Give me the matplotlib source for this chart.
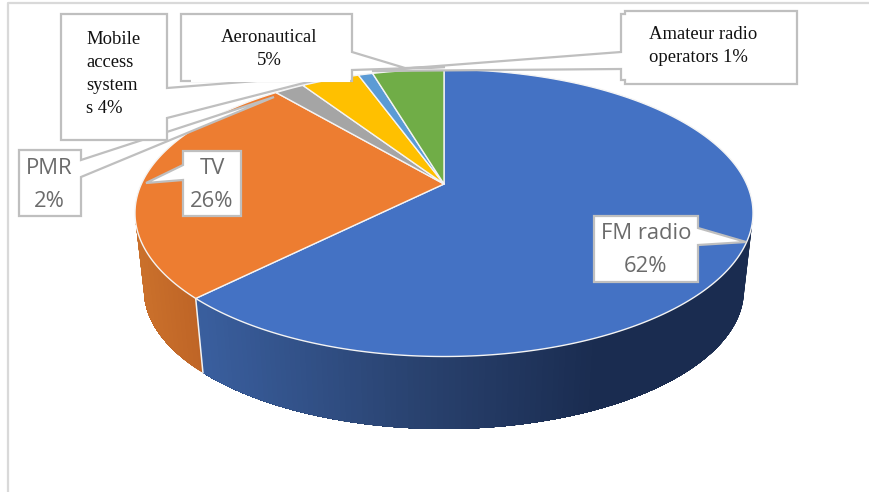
import numpy as np
import matplotlib
matplotlib.use("Agg")
import matplotlib.pyplot as plt
from matplotlib.patches import Polygon
from matplotlib.colors import to_rgb

categories = ["FM radio", "TV", "PMR", "Mobile access system", "Amateur radio operators", "Aeronautical"]
values = [62, 26, 2, 4, 1, 5]
colors = ["#4472C4", "#ED7D31", "#A5A5A5", "#FFC000", "#5B9BD5", "#70AD47"]
side_colors = {0: [(196, "#3A5F9F"), (420, "#29426F"), (600, "#1A2C50"), (760, "#1A2C50")],
               1: [(130, "#CC722C"), (200, "#BE6426")]}
label_text = ["FM radio\n62%", "TV\n26%", "PMR\n2%", "Mobile\naccess\nsystem\ns 4%",
              "Amateur radio\noperators 1%", "Aeronautical\n5%"]

# geometry in pixels
CX, CY, RX, RY, APEX_Y, WARP = 444, 213, 309, 143.5, 184, 15
BCY, BRX, BRY = 290, 300, 139

fig = plt.figure(figsize=(8.7, 4.92), dpi=100)
ax = fig.add_axes([0, 0, 1, 1])
ax.set_xlim(0, 870); ax.set_ylim(492, 0); ax.axis("off")

def warp(t):
    return t - np.radians(WARP) * np.sin(t)

def rim(t):
    return np.column_stack([CX + RX * np.sin(t), CY - RY * np.cos(t)])

def base(t):
    return np.column_stack([CX + BRX * np.sin(t), BCY - BRY * np.cos(t)])

def blend(stops, x):
    xs = [s[0] for s in stops]
    rgb = np.array([to_rgb(s[1]) for s in stops])
    return [np.interp(x, xs, rgb[:, i]) for i in range(3)]

# frame
ax.plot([8, 8, 870], [492, 3, 3], color="#D9D9D9", lw=1.6, zorder=0)

frac = np.cumsum([0] + values) / sum(values)
angles = warp(frac * 2 * np.pi)

# side wall: each strip reaches to the slice's far end, so later strips overpaint without seams
for i, col in enumerate(colors):
    lo, hi = max(angles[i], np.pi / 2), min(angles[i + 1], 3 * np.pi / 2)
    if hi <= lo:
        continue
    for n, t0 in enumerate(np.linspace(lo, hi, 130)[:-1]):
        ts = np.linspace(t0, hi, 60)
        pts = np.vstack([rim(ts), base(ts[::-1])])
        c = blend(side_colors.get(i, [(0, col), (870, col)]), rim(np.array([t0]))[0, 0])
        ax.add_patch(Polygon(pts, closed=True, fc=c, ec="none", lw=0, zorder=1 + i * 0.01))
    if hi < 3 * np.pi / 2:
        end = np.array([hi])
        bound = np.vstack([rim(end), base(end)])
        ax.plot(bound[:, 0], bound[:, 1], color="#F2F2F2", lw=1.1, zorder=2)

# top faces
for i, col in enumerate(colors):
    ts = np.linspace(angles[i], angles[i + 1], 300)
    pts = np.vstack([[CX, APEX_Y], rim(ts)])
    ax.add_patch(Polygon(pts, closed=True, fc=col, ec="#F4F4F4", lw=1.0, zorder=3, joinstyle="round"))

BOX = dict(fc="white", ec="#BFBFBF", lw=1.6, joinstyle="miter")
SERIF = dict(family="Liberation Serif", fontsize=13.4, color="#111111")
SANS = dict(family="Open Sans", fontsize=15.8, color="#6B6B6B")

callouts = {
    1: [(183, 151), (241, 151), (241, 216), (183, 216), (183, 180), (146, 183), (183, 165)],
    0: [(594, 216), (698, 216), (698, 228), (746, 242), (698, 245), (698, 282), (594, 282)],
    4: [(625, 11), (797, 11), (797, 84), (625, 84), (625, 80), (621, 80), (621, 69), (372, 71),
        (621, 52), (621, 14), (625, 14)],
    2: [(19, 150), (81, 150), (81, 160), (274, 97), (81, 177), (81, 216), (19, 216)],
    3: [(61, 14), (167, 14), (167, 88), (345, 74), (300, 84), (167, 118), (167, 140), (61, 140)],
    5: [(181, 14), (352, 14), (352, 52), (405, 68), (445, 67), (352, 70), (352, 81), (181, 81)],
}
text_pos = {
    0: (646, 250, "center", SANS, 1.75),
    1: (212, 185, "center", SANS, 1.75),
    2: (49, 185, "center", SANS, 1.75),
    3: (86, 74, "left", SERIF, 1.47),
    4: (649, 46, "left", SERIF, 1.47),
    5: (269, 49, "center", SERIF, 1.47),
}
for i in [1, 0, 4, 2, 3, 5]:
    ax.add_patch(Polygon(callouts[i], closed=True, zorder=4 + i * 0.1, **BOX))
    if i == 5:  # borderless white patch left on top of the aeronautical box
        ax.fill([191, 350, 350, 191], [19, 19, 82, 82], color="white", lw=0, zorder=4.55)
    x, y, ha, style, sp = text_pos[i]
    ax.text(x, y, label_text[i], ha=ha, va="center", multialignment=ha, linespacing=sp, zorder=6, **style)

fig.savefig("out.png", dpi=100)
